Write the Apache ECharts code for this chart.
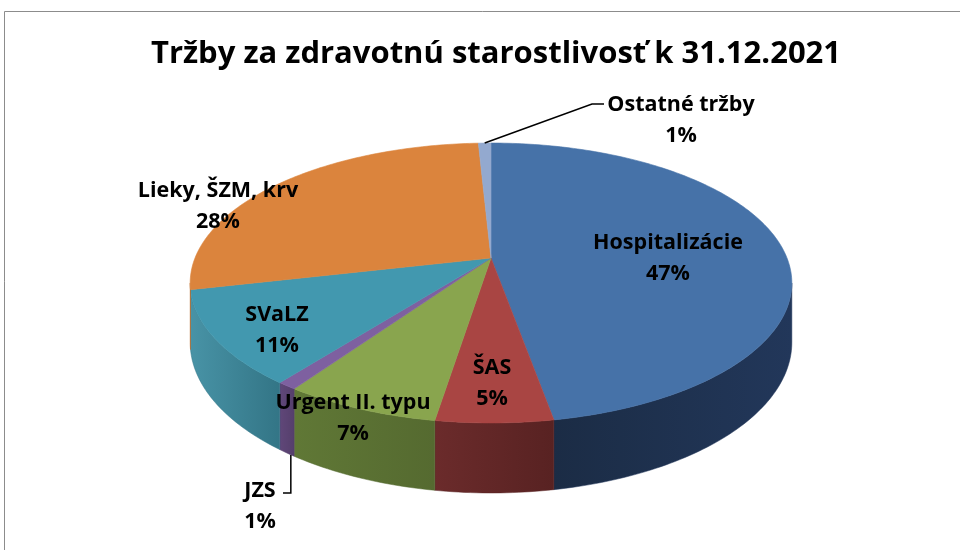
<!DOCTYPE html>
<html>
<head>
<meta charset="utf-8">
<script src="https://cdn.jsdelivr.net/npm/echarts@6/dist/echarts.min.js"></script>
<style>
  html, body { margin: 0; padding: 0; background: #fff; }
  #chart { width: 960px; height: 550px; }
</style>
</head>
<body>
<div id="chart"></div>
<script>
// podiel tržieb (v %), poradie v smere hodín od 12:00
var categories = ['Hospitalizácie', 'ŠAS', 'Urgent II. typu', 'JZS', 'SVaLZ', 'Lieky, ŠZM, krv', 'Ostatné tržby'];
var values = [47.2, 5.3, 7.1, 0.9, 10.9, 27.8, 0.8];

// vzhľad
var topColors = ['#4672A8', '#A94543', '#89A54E', '#7E60A0', '#4298AF', '#DB843D', '#93A9CF'];
var sideColors = [
    ['#1B2C45', '#22375A'],
    ['#6B2B2B', '#582222'],
    ['#607836', '#556A30'],
    ['#604779', '#553F6C'],
    ['#4893A6', '#337586'],
    ['#C77530', '#B86A2A'],
    ['#7F94B8', '#7489AD']
];
// poloha popisov (stred textu) voči stredu koláča
var labelOffset = [[177, 0], [1, 125], [-138, 160], [-231, 248], [-214, 72], [-273, -52], [190, -138]];

// geometria 3D koláča (perspektíva)
var CX = 491, CY = 258, A = 296, B = 135.5, K = 0.1786, H = 57.5;

function proj(deg, r) {
    var t = deg * Math.PI / 180;
    var u = r * Math.sin(t), v = -r * Math.cos(t);
    var w = 1 - K * v;
    return [CX + A * u / w, CY + B * v / w, w];
}

var total = 0;
for (var i = 0; i < values.length; i++) total += values[i];
var angles = [];
var acc = 0;
for (var i = 0; i < values.length; i++) {
    var a0 = acc / total * 360;
    acc += values[i];
    angles.push([a0, acc / total * 360]);
}

var visStart = 90 + Math.asin(K) * 180 / Math.PI;
var visEnd = 270 - Math.asin(K) * 180 / Math.PI;

function arc(a0, a1) {
    var pts = [];
    var n = Math.max(2, Math.ceil((a1 - a0) / 1));
    for (var j = 0; j <= n; j++) {
        pts.push(proj(a0 + (a1 - a0) * j / n, 1));
    }
    return pts;
}

function renderItem(params, api) {
    var idx = params.dataIndex;
    var a0 = angles[idx][0], a1 = angles[idx][1];
    var children = [];

    // bočná stena
    var s0 = Math.max(a0, visStart), s1 = Math.min(a1, visEnd);
    if (s1 > s0) {
        var top = arc(s0, s1);
        var pts = [];
        for (var j = 0; j < top.length; j++) pts.push([top[j][0], top[j][1]]);
        for (var j = top.length - 1; j >= 0; j--) pts.push([top[j][0], top[j][1] + H / top[j][2]]);
        children.push({
            type: 'polygon',
            shape: {points: pts},
            style: {
                fill: new echarts.graphic.LinearGradient(0, 0, 1, 0, [
                    {offset: 0, color: sideColors[idx][0]},
                    {offset: 1, color: sideColors[idx][1]}
                ]),
                stroke: sideColors[idx][1],
                lineWidth: 0.5
            }
        });
    }

    // vrchná plocha
    var face = [[CX, CY]];
    var ap = arc(a0, a1);
    for (var j = 0; j < ap.length; j++) face.push([ap[j][0], ap[j][1]]);
    children.push({
        type: 'polygon',
        shape: {points: face},
        style: {fill: topColors[idx], stroke: topColors[idx], lineWidth: 0.6}
    });

    // popis
    var lx = CX + labelOffset[idx][0], ly = CY + labelOffset[idx][1];
    var pct = Math.round(values[idx] / total * 100);
    children.push({
        type: 'text',
        z2: 20,
        style: {
            text: categories[idx] + '\n' + pct + '%',
            x: lx, y: ly,
            align: 'center', verticalAlign: 'middle',
            fontFamily: 'Open Sans', fontWeight: 'bold', fontSize: 21.5, lineHeight: 31,
            fill: '#000'
        }
    });

    // vodiace čiary pre malé výseky mimo koláča
    var mid = (a0 + a1) / 2;
    if (idx === 6) {
        var p = proj(mid, 1);
        children.push({
            type: 'polyline', z2: 20,
            shape: {points: [[p[0], p[1]], [lx - 89, ly - 16], [lx - 77, ly - 16]]},
            style: {stroke: '#000', lineWidth: 1.5, fill: null}
        });
    }
    if (idx === 3) {
        var q = proj(mid, 1);
        var x0 = q[0] + 4, y0 = q[1] + H / q[2] + 2;
        children.push({
            type: 'polyline', z2: 20,
            shape: {points: [[x0, y0], [x0, ly - 13], [lx + 23, ly - 13]]},
            style: {stroke: '#000', lineWidth: 1.5, fill: null}
        });
    }

    return {type: 'group', children: children};
}

var myChart = echarts.init(document.getElementById('chart'));
var option = {
    backgroundColor: '#fff',
    animation: false,
    title: {
        text: 'Tržby za zdravotnú starostlivosť k 31.12.2021',
        left: 491,
        textAlign: 'center',
        top: 34,
        textStyle: {
            fontFamily: 'Open Sans',
            fontWeight: 'bold',
            fontSize: 31,
            color: '#000'
        }
    },
    graphic: [{
        type: 'rect',
        z: -1,
        shape: {x: 4.5, y: 11.5, width: 1000, height: 600},
        style: {fill: '#fff', stroke: '#8c8c8c', lineWidth: 1}
    }],
    series: [{
        type: 'custom',
        coordinateSystem: 'none',
        renderItem: renderItem,
        data: values
    }]
};
myChart.setOption(option);
</script>
</body>
</html>
